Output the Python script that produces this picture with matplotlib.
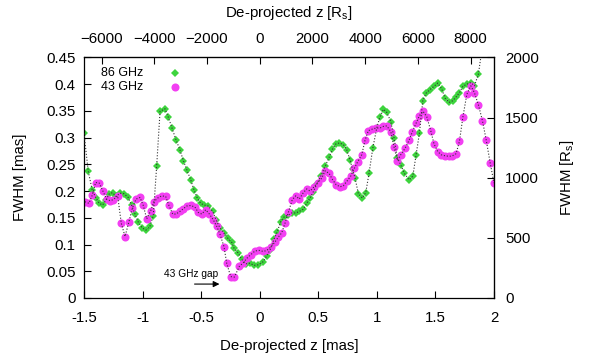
import matplotlib
matplotlib.use("Agg")
import matplotlib.pyplot as plt

plt.rcParams['font.family'] = ['Liberation Sans', 'DejaVu Sans']
plt.rcParams['font.size'] = 10.8

# 86 GHz: de-projected z [mas], FWHM [mas]
x86 = [-1.500, -1.464, -1.430, -1.398, -1.370, -1.341, -1.313, -1.284, -1.256, -1.227,
       -1.193, -1.159, -1.122, -1.093, -1.065, -1.037, -1.003, -0.971, -0.937, -0.909,
       -0.880, -0.851, -0.809, -0.780, -0.749, -0.715, -0.681, -0.652, -0.623, -0.589,
       -0.561, -0.533, -0.504, -0.476, -0.439, -0.401, -0.373, -0.339, -0.305, -0.273,
       -0.239, -0.219, -0.183, -0.154, -0.117, -0.083, -0.049, -0.012, 0.031, 0.060,
       0.088, 0.122, 0.150, 0.179, 0.210, 0.244, 0.273, 0.307, 0.338, 0.372,
       0.401, 0.430, 0.458, 0.487, 0.521, 0.558, 0.592, 0.620, 0.649, 0.680,
       0.714, 0.743, 0.771, 0.792, 0.814, 0.842, 0.876, 0.905, 0.933, 0.965,
       0.999, 1.027, 1.056, 1.085, 1.119, 1.147, 1.175, 1.204, 1.235, 1.275,
       1.307, 1.335, 1.363, 1.392, 1.420, 1.454, 1.488, 1.520, 1.554, 1.582,
       1.617, 1.648, 1.676, 1.705, 1.734, 1.768, 1.802, 1.833, 1.867, 1.900]
fw86 = [0.308, 0.237, 0.202, 0.187, 0.177, 0.174, 0.183, 0.195, 0.197, 0.190,
        0.196, 0.195, 0.188, 0.173, 0.157, 0.142, 0.131, 0.127, 0.134, 0.154,
        0.246, 0.349, 0.354, 0.338, 0.318, 0.296, 0.277, 0.257, 0.240, 0.221,
        0.202, 0.187, 0.177, 0.174, 0.172, 0.162, 0.146, 0.131, 0.121, 0.112,
        0.104, 0.093, 0.084, 0.072, 0.064, 0.065, 0.061, 0.062, 0.068, 0.079,
        0.090, 0.110, 0.124, 0.143, 0.152, 0.155, 0.159, 0.159, 0.162, 0.166,
        0.177, 0.187, 0.199, 0.213, 0.228, 0.246, 0.263, 0.278, 0.288, 0.290,
        0.287, 0.277, 0.258, 0.241, 0.224, 0.195, 0.187, 0.197, 0.233, 0.280,
        0.318, 0.339, 0.353, 0.347, 0.330, 0.299, 0.262, 0.249, 0.233, 0.221,
        0.228, 0.268, 0.308, 0.369, 0.383, 0.390, 0.396, 0.402, 0.391, 0.374,
        0.366, 0.369, 0.376, 0.384, 0.396, 0.400, 0.403, 0.397, 0.419, 0.470]

# 43 GHz
x43 = [-1.492, -1.458, -1.430, -1.401, -1.370, -1.341, -1.307, -1.278, -1.250, -1.213,
       -1.182, -1.150, -1.116, -1.088, -1.056, -1.022, -0.994, -0.965, -0.931, -0.903,
       -0.871, -0.837, -0.803, -0.775, -0.743, -0.715, -0.681, -0.652, -0.623, -0.589,
       -0.553, -0.524, -0.495, -0.461, -0.430, -0.396, -0.367, -0.339, -0.305, -0.282,
       -0.248, -0.217, -0.174, -0.140, -0.111, -0.077, -0.040, -0.004, 0.031, 0.060,
       0.094, 0.131, 0.159, 0.188, 0.216, 0.244, 0.278, 0.307, 0.338, 0.372,
       0.401, 0.430, 0.464, 0.495, 0.529, 0.558, 0.592, 0.620, 0.652, 0.686,
       0.714, 0.743, 0.777, 0.808, 0.837, 0.871, 0.899, 0.927, 0.962, 0.993,
       1.027, 1.056, 1.085, 1.119, 1.147, 1.175, 1.204, 1.241, 1.275, 1.303,
       1.335, 1.363, 1.395, 1.426, 1.460, 1.488, 1.520, 1.548, 1.582, 1.617,
       1.645, 1.676, 1.705, 1.734, 1.768, 1.802, 1.833, 1.867, 1.901, 1.933,
       1.967, 2.000]
fw43 = [0.180, 0.177, 0.192, 0.216, 0.215, 0.201, 0.185, 0.182, 0.184, 0.191,
        0.140, 0.115, 0.143, 0.168, 0.185, 0.188, 0.173, 0.148, 0.163, 0.180,
        0.187, 0.191, 0.190, 0.173, 0.157, 0.157, 0.162, 0.167, 0.172, 0.173,
        0.170, 0.160, 0.157, 0.165, 0.157, 0.146, 0.134, 0.119, 0.096, 0.065,
        0.040, 0.039, 0.059, 0.066, 0.074, 0.081, 0.088, 0.089, 0.087, 0.089,
        0.095, 0.105, 0.114, 0.122, 0.140, 0.160, 0.184, 0.191, 0.185, 0.197,
        0.204, 0.200, 0.208, 0.216, 0.224, 0.238, 0.233, 0.222, 0.212, 0.208,
        0.210, 0.218, 0.228, 0.243, 0.255, 0.268, 0.295, 0.313, 0.316, 0.318,
        0.318, 0.321, 0.322, 0.311, 0.282, 0.257, 0.268, 0.280, 0.295, 0.311,
        0.327, 0.341, 0.349, 0.339, 0.313, 0.288, 0.274, 0.268, 0.266, 0.265,
        0.266, 0.270, 0.293, 0.338, 0.381, 0.397, 0.384, 0.361, 0.332, 0.296,
        0.253, 0.215]

mas_to_rs = 2000 / 0.45

fig = plt.figure(figsize=(5.98, 3.59), dpi=100)
ax = fig.add_axes([0.1405, 0.170, 0.6856, 0.670])

green = '#3dd43d'
magenta = '#f23ff2'

ax.plot(x86, fw86, 'D', color=green, ms=4.2, mew=0, zorder=2)
ax.plot(x43, fw43, 'o', color=magenta, ms=5.8, mew=0, zorder=2)
ax.plot(x86, fw86, ':', color='#333333', lw=0.8, zorder=3)
ax.plot(x43, fw43, ':', color='#333333', lw=0.8, zorder=3)

ax.set_xlim(-1.5, 2)
ax.set_ylim(0, 0.45)
ax.set_xticks([-1.5, -1, -0.5, 0, 0.5, 1, 1.5, 2])
ax.set_xticklabels(['-1.5', '-1', '-0.5', '0', '0.5', '1', '1.5', '2'])
ax.set_yticks([0, 0.05, 0.1, 0.15, 0.2, 0.25, 0.3, 0.35, 0.4, 0.45])
ax.set_yticklabels(['0', '0.05', '0.1', '0.15', '0.2', '0.25', '0.3', '0.35', '0.4', '0.45'])
ax.tick_params(direction='in', length=5, width=0.8)
ax.tick_params(axis='x', pad=9.5)
ax.tick_params(axis='y', pad=6)
ax.set_xlabel('De-projected z [mas]', labelpad=10)
ax.set_ylabel('FWHM [mas]', labelpad=14)

top = ax.secondary_xaxis('top', functions=(lambda v: v * mas_to_rs, lambda v: v / mas_to_rs))
top.set_xticks([-6000, -4000, -2000, 0, 2000, 4000, 6000, 8000])
top.tick_params(direction='in', length=5, width=0.8, pad=8)
top.set_xlabel('De-projected z [R$_\\mathregular{s}$]', labelpad=11)

right = ax.secondary_yaxis('right', functions=(lambda v: v * mas_to_rs, lambda v: v / mas_to_rs))
right.set_yticks([0, 500, 1000, 1500, 2000])
right.tick_params(direction='in', length=5, width=0.8, pad=8)
right.set_ylabel('FWHM [R$_\\mathregular{s}$]', labelpad=14)

for s in ax.spines.values():
    s.set_linewidth(0.9)

# key, gnuplot style: text then symbol
ax.text(0.144, 0.934, '86 GHz', transform=ax.transAxes, ha='right', va='center', fontsize=9)
ax.text(0.144, 0.877, '43 GHz', transform=ax.transAxes, ha='right', va='center', fontsize=9)
ax.plot([0.222], [0.934], 'D', color=green, ms=4.2, mew=0, transform=ax.transAxes)
ax.plot([0.222], [0.877], 'o', color=magenta, ms=5.8, mew=0, transform=ax.transAxes)

ax.text(-0.587, 0.045, '43 GHz gap', ha='center', va='center', fontsize=7.3)
ax.annotate('', xy=(-0.32, 0.026), xytext=(-0.58, 0.026),
            arrowprops=dict(arrowstyle='-|>', color='black', lw=0.8, mutation_scale=9))

fig.savefig('out.png', dpi=100)
